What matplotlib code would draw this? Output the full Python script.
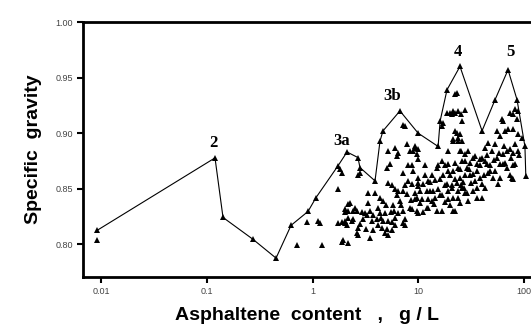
import matplotlib
matplotlib.use("Agg")
import matplotlib.pyplot as plt
from matplotlib.ticker import FixedLocator, FixedFormatter, NullLocator

# Envelope line (upper bound)
env_x = [0.0092, 0.1197, 0.1425, 0.273, 0.452, 0.627, 0.907, 1.08, 1.74, 2.12,
         2.69, 2.81, 3.90, 4.35, 4.64, 6.71, 9.96, 15.4, 16.1, 18.7, 24.8,
         40.1, 53.2, 70.6, 85.9, 102, 104]
env_y = [0.8125, 0.8777, 0.8241, 0.8045, 0.7875, 0.817, 0.8295, 0.842, 0.8705, 0.883,
         0.878, 0.869, 0.857, 0.893, 0.902, 0.920, 0.900, 0.888, 0.911, 0.939, 0.960,
         0.902, 0.930, 0.957, 0.930, 0.888, 0.861]

# Scattered measurements
pts_x = [0.0092,
         0.89, 1.13, 1.18, 1.74, 1.90, 2.03, 0.715, 1.23, 1.90, 1.74, 2.03, 1.82, 1.90,
         2.17, 2.41, 2.17, 2.41, 1.94, 2.63,
         2.69, 2.81, 5.18, 6.03, 6.44, 6.30, 5.41, 5.07, 7.82, 7.17, 3.34, 3.90, 4.64,
         5.65, 6.03, 6.44, 6.30, 6.72, 7.17, 2.26, 2.17, 2.03, 2.63, 2.93, 3.34, 3.50,
         3.74, 4.07, 3.66, 3.27, 4.35, 4.85, 4.64, 5.18, 5.65, 6.03, 6.03, 4.16, 4.54,
         5.07, 5.65, 4.85, 5.18, 6.44, 7.17, 7.49, 2.03, 2.36, 2.69, 2.12, 2.69, 3.50,
         2.17, 7.17, 3.74, 7.17, 3.13, 2.52, 4.35, 5.77, 5.18, 7.49,
         22.3, 23.3, 20.9, 22.3, 23.8, 27.7, 17.2, 16.8, 23.3, 24.8, 23.8, 25.9, 21.3,
         25.3, 27.7, 19.1, 7.49, 9.31, 9.94, 8.91,
         8.35, 9.31, 9.72, 9.94, 11.6, 8.00, 8.91, 9.94, 11.1, 12.1, 13.8, 8.72, 9.31,
         9.72, 10.4, 12.4, 13.5, 8.35, 9.72, 15.0, 21.3, 21.3, 16.1, 18.7, 20.9, 15.0,
         16.8, 19.1, 22.3, 23.8, 21.3, 18.7, 21.3, 20.0, 25.3, 25.9, 24.8, 25.9, 23.8,
         29.6, 33.0, 35.9, 28.9, 30.9, 34.4, 38.4, 24.8, 23.3, 25.9, 28.9, 33.0, 35.9,
         40.1, 44.7, 42.8, 45.7, 49.8, 53.2, 55.6, 59.3, 66.1, 61.9, 63.3, 73.7, 78.7,
         82.2, 87.7, 85.9, 70.6, 78.7, 87.7, 95.7, 55.6, 63.3, 69.0, 73.7, 78.7, 87.7,
         59.3, 69.0, 78.7, 73.7, 78.7, 47.7, 50.9, 59.3, 56.8, 33.0, 40.1, 42.8,
         8.72, 15.4, 17.9, 22.3, 24.8, 8.00, 9.94, 12.4, 15.4, 17.9, 20.9, 25.3, 9.31,
         10.9, 12.4, 14.4, 16.8, 19.1, 23.8, 8.72, 9.94, 12.1, 16.8, 22.3, 7.49,
         13.5, 16.1, 20.0, 22.3, 10.4, 12.9, 19.1, 23.8, 27.7, 38.4, 42.8, 47.7, 30.9,
         27.7, 34.4, 38.4, 45.7, 53.2, 66.1, 82.2, 35.9, 40.1, 27.7, 29.6, 24.8, 20.0,
         76.2, 63.3,
         5.0, 5.5, 4.2, 3.0, 2.8, 3.2, 4.4, 5.9, 6.9, 7.9, 8.5, 10.0, 11.5, 13.0, 14.5,
         17.0, 19.0, 21.5, 26.5, 31.5, 36.0, 42.0, 45.0, 52.0, 58.0, 64.0, 75.0, 82.0,
         90.0, 30.0, 27.0, 18.0, 14.0, 11.0]
pts_y = [0.8036,
         0.820, 0.821, 0.819, 0.819, 0.820, 0.819, 0.799, 0.799, 0.802, 0.850, 0.832, 0.868, 0.864,
         0.824, 0.823, 0.836, 0.830, 0.804, 0.810,
         0.862, 0.864, 0.884, 0.887, 0.882, 0.879, 0.872, 0.869, 0.890, 0.864, 0.846, 0.846, 0.839,
         0.853, 0.850, 0.848, 0.844, 0.839, 0.848, 0.837, 0.830, 0.829, 0.830, 0.829, 0.837, 0.830,
         0.826, 0.823, 0.821, 0.826, 0.828, 0.828, 0.821, 0.821, 0.820, 0.824, 0.817, 0.817, 0.815,
         0.814, 0.8125, 0.810, 0.808, 0.828, 0.830, 0.823, 0.821, 0.821, 0.815, 0.817, 0.808, 0.806,
         0.801, 0.819, 0.8125, 0.907, 0.828, 0.833, 0.842, 0.835, 0.855, 0.853,
         0.935, 0.936, 0.917, 0.918, 0.920, 0.921, 0.909, 0.906, 0.900, 0.899, 0.893, 0.893, 0.895,
         0.884, 0.881, 0.884, 0.906, 0.888, 0.886, 0.884,
         0.884, 0.887, 0.881, 0.877, 0.871, 0.871, 0.866, 0.860, 0.854, 0.848, 0.848, 0.854, 0.846,
         0.842, 0.837, 0.833, 0.839, 0.833, 0.830, 0.830, 0.830, 0.842, 0.844, 0.854, 0.851, 0.869,
         0.875, 0.872, 0.902, 0.896, 0.893, 0.918, 0.920, 0.918, 0.917, 0.911, 0.884, 0.875, 0.869,
         0.884, 0.878, 0.872, 0.869, 0.862, 0.857, 0.860, 0.860, 0.855, 0.851, 0.846, 0.848, 0.842,
         0.878, 0.872, 0.887, 0.891, 0.884, 0.890, 0.902, 0.897, 0.902, 0.913, 0.911, 0.918, 0.917,
         0.922, 0.920, 0.913, 0.904, 0.904, 0.899, 0.896, 0.878, 0.881, 0.884, 0.886, 0.882, 0.884,
         0.872, 0.869, 0.871, 0.862, 0.859, 0.866, 0.860, 0.860, 0.854, 0.863, 0.854, 0.851,
         0.871, 0.871, 0.871, 0.873, 0.868, 0.857, 0.855, 0.857, 0.850, 0.853, 0.853, 0.853, 0.841,
         0.841, 0.841, 0.842, 0.844, 0.841, 0.842, 0.832, 0.828, 0.833, 0.830, 0.830, 0.817,
         0.862, 0.859, 0.862, 0.859, 0.848, 0.848, 0.848, 0.848, 0.862, 0.871, 0.875, 0.871, 0.873,
         0.875, 0.879, 0.877, 0.864, 0.866, 0.873, 0.872, 0.851, 0.842, 0.846, 0.839, 0.837, 0.835,
         0.860, 0.872,
         0.835, 0.829, 0.833, 0.823, 0.818, 0.814, 0.824, 0.830, 0.835, 0.845, 0.840, 0.852, 0.862,
         0.856, 0.858, 0.862, 0.866, 0.866, 0.856, 0.855, 0.866, 0.862, 0.880, 0.876, 0.882, 0.888,
         0.878, 0.890, 0.880, 0.868, 0.851, 0.838, 0.836, 0.829]

# Peak labels
lab_text = ["2", "3a", "3b", "4", "5"]
lab_x = [0.115, 1.87, 5.65, 23.8, 73.7]
lab_y = [0.891, 0.893, 0.933, 0.973, 0.973]

x_ticks = [0.01, 0.1, 1, 10, 100]
x_tick_labels = ["0.01", "0.1", "1", "10", "100"]
y_ticks = [0.80, 0.85, 0.90, 0.95, 1.00]
y_tick_labels = ["0.80", "0.85", "0.90", "0.95", "1.00"]

fig = plt.figure(figsize=(5.31, 3.26), dpi=100)
ax = fig.add_axes([83/531, 1 - 277/326, 448/531, 255/326])

ax.plot(pts_x, pts_y, linestyle="none", marker="^", markersize=5,
        color="black", markeredgewidth=0)
ax.plot(env_x, env_y, color="black", linewidth=0.8, marker="^",
        markersize=5, markeredgewidth=0)

for t, xx, yy in zip(lab_text, lab_x, lab_y):
    ax.text(xx, yy, t, ha="center", va="center", fontsize=12,
            family="Liberation Serif", fontweight="bold")

ax.set_xscale("log")
ax.set_xlim(0.00676, 116.4)
ax.set_ylim(0.7705, 1.0)

ax.xaxis.set_major_locator(FixedLocator(x_ticks))
ax.xaxis.set_major_formatter(FixedFormatter(x_tick_labels))
ax.xaxis.set_minor_locator(NullLocator())
ax.yaxis.set_major_locator(FixedLocator(y_ticks))
ax.yaxis.set_major_formatter(FixedFormatter(y_tick_labels))

ax.tick_params(axis="both", direction="out", length=4, width=1.5,
               labelsize=6.5, labelcolor="#444444", pad=3)
for lbl in ax.get_xticklabels() + ax.get_yticklabels():
    lbl.set_family("Liberation Sans")

for side in ["left", "bottom", "top"]:
    ax.spines[side].set_linewidth(2)
ax.spines["right"].set_visible(False)

ax.set_xlabel("Asphaltene  content   ,   g / L", fontsize=14, fontweight="bold",
              family="Liberation Sans", labelpad=8)
ax.set_ylabel("Specific  gravity", fontsize=14, fontweight="bold",
              family="Liberation Sans", labelpad=10)

fig.savefig("out.png", dpi=100)
